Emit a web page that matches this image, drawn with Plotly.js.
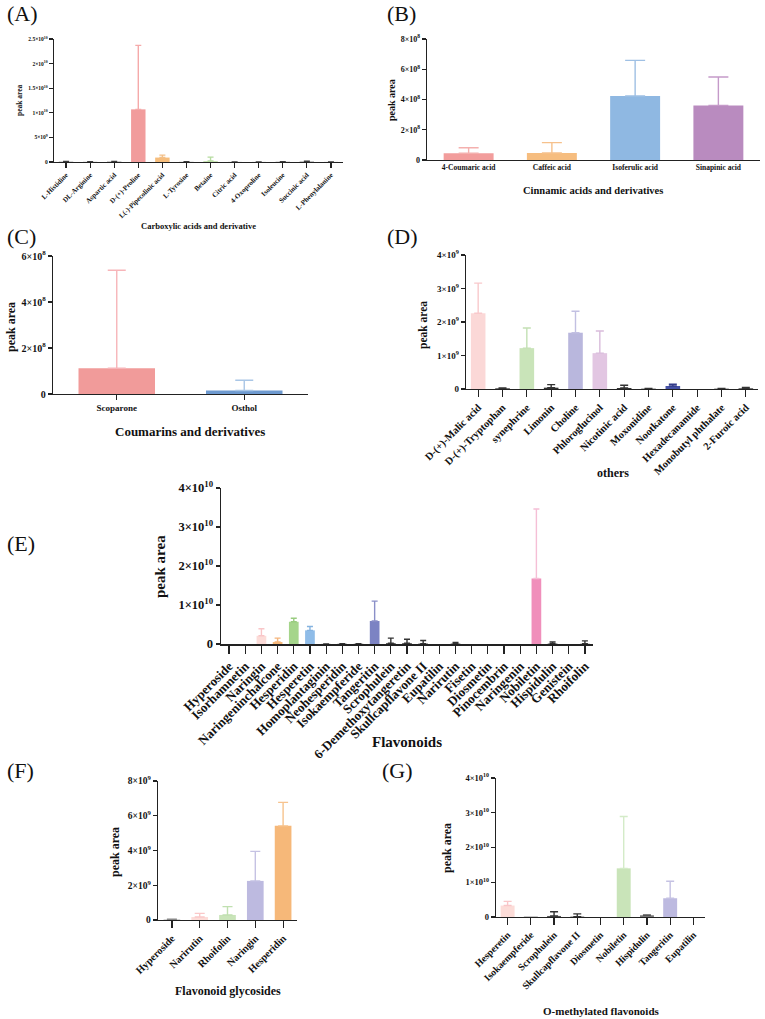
<!DOCTYPE html>
<html>
<head>
<meta charset="utf-8">
<script src="https://cdn.plot.ly/plotly-3.0.1.min.js"></script>
<style>html,body{margin:0;padding:0;background:#fff}#chart{width:765px;height:1019px}</style>
</head>
<body>
<div id="chart"></div>
<script>
// ---------- DATA ----------
// (A) Carboxylic acids and derivative
const A_cats = ["L-Histidine","DL-Arginine","Aspartic acid","D-(+)-Proline","L(-)-Pipecolinic acid","L-Tyrosine","Betaine","Citric acid","4-Oxoproline","Isoleucine","Succinic acid","L-Phenylalanine"];
const A_vals = [4e7, 2e7, 5e7, 1.07e10, 9e8, 2e7, 2e8, 1e7, 1e7, 3e7, 6e7, 1e7];
const A_errTop = [1e8, 6e7, 1.2e8, 2.37e10, 1.4e9, 5e7, 1e9, 3e7, 3e7, 8e7, 1.5e8, 3e7];
const A_colors = ["#3a3a3a","#3a3a3a","#3a3a3a","#f19c9c","#f6bd7c","#3a3a3a","#c8e4b4","#3a3a3a","#3a3a3a","#3a3a3a","#3a3a3a","#3a3a3a"];
const A_errColors = ["#3a3a3a","#3a3a3a","#3a3a3a","#f5aaaa","#f3c088","#3a3a3a","#b6dca0","#3a3a3a","#3a3a3a","#3a3a3a","#3a3a3a","#3a3a3a"];
const A_tickVals = [0, 5e9, 1e10, 1.5e10, 2e10, 2.5e10];
const A_tickText = ["0","5×10<sup>9</sup>","1×10<sup>10</sup>","1.5×10<sup>10</sup>","2×10<sup>10</sup>","2.5×10<sup>10</sup>"];

// (B) Cinnamic acids and derivatives
const B_cats = ["4-Coumaric acid","Caffeic acid","Isoferulic acid","Sinapinic acid"];
const B_vals = [4.5e7, 4.6e7, 4.23e8, 3.61e8];
const B_errTop = [8.1e7, 1.15e8, 6.59e8, 5.49e8];
const B_colors = ["#f29d9c","#f6bd7f","#8fb8e2","#b98bbf"];
const B_errColors = ["#f4b0ae","#f6c18c","#9fc0e4","#c59ac9"];
const B_tickVals = [0, 2e8, 4e8, 6e8, 8e8];
const B_tickText = ["0","2×10<sup>8</sup>","4×10<sup>8</sup>","6×10<sup>8</sup>","8×10<sup>8</sup>"];

// (C) Coumarins and derivatives
const C_cats = ["Scoparone","Osthol"];
const C_vals = [1.12e8, 1.5e7];
const C_errTop = [5.38e8, 6.0e7];
const C_colors = ["#f19b9a","#6e9ad0"];
const C_errColors = ["#f7b5b9","#a9c6e6"];
const C_tickVals = [0, 2e8, 4e8, 6e8];
const C_tickText = ["0","2×10<sup>8</sup>","4×10<sup>8</sup>","6×10<sup>8</sup>"];

// (D) others
const D_cats = ["D-(+)-Malic acid","D-(+)-Tryptophan","synephrine","Limonin","Choline","Phloroglucinol","Nicotinic acid","Moxonidine","Nootkatone","Hexadecanamide","Monobutyl phthalate","2-Furoic acid"];
const D_vals = [2.26e9, 2e7, 1.22e9, 4e7, 1.68e9, 1.07e9, 3e7, 1e7, 9e7, 0, 1e7, 2e7];
const D_errTop = [3.16e9, 3e7, 1.82e9, 1.3e8, 2.32e9, 1.73e9, 1.1e8, 2e7, 1.4e8, 0, 2e7, 5e7];
const D_colors = ["#fbd8d7","#333333","#c9e4b9","#333333","#b9b7dd","#e2c6e2","#333333","#333333","#4652a6","#333333","#333333","#333333"];
const D_errColors = ["#f9c9cc","#333333","#c3e0b4","#333333","#c2c0e2","#d9bcdb","#333333","#333333","#333b8a","#333333","#333333","#333333"];
const D_tickVals = [0, 1e9, 2e9, 3e9, 4e9];
const D_tickText = ["0","1×10<sup>9</sup>","2×10<sup>9</sup>","3×10<sup>9</sup>","4×10<sup>9</sup>"];

// (E) Flavonoids
const E_cats = ["Hyperoside","Isorhamnetin","Naringin","Naringeninchalcone","Hesperidin","Hesperetin","Homoplantaginin","Neohesperidin","Isokaempferide","Tangeritin","Scrophulein","6-Demethoxytangeretin","Skullcapflavone II","Eupatilin","Narirutin","Fisetin","Diosmetin","Pinocembrin","Naringenin","Nobiletin","Hispidulin","Genistein","Rhoifolin"];
const E_vals = [0, 0, 2.1e9, 5e8, 5.7e9, 3.5e9, 2e7, 5e7, 5e7, 5.9e9, 2e8, 2e8, 1e8, 0, 1e8, 0, 0, 0, 0, 1.68e10, 1e8, 0, 5e7];
const E_errTop = [0, 0, 3.9e9, 1.5e9, 6.6e9, 4.5e9, 4e7, 1e8, 1e8, 1.1e10, 1.5e9, 1.2e9, 9e8, 0, 4e8, 0, 0, 0, 0, 3.46e10, 5e8, 0, 8e8];
const E_colors = ["#333333","#333333","#fcdcd8","#f6b879","#a5d58b","#8fbce8","#333333","#333333","#333333","#7c83c3","#333333","#333333","#333333","#333333","#333333","#333333","#333333","#333333","#333333","#f08fbb","#333333","#333333","#333333"];
const E_errColors = ["#333333","#333333","#f9c6c8","#f5b57c","#99cc80","#85b3e0","#333333","#333333","#333333","#8a8fc8","#333333","#333333","#333333","#333333","#333333","#333333","#333333","#333333","#333333","#f5bfd6","#333333","#333333","#333333"];
const E_tickVals = [0, 1e10, 2e10, 3e10, 4e10];
const E_tickText = ["0","1×10<sup>10</sup>","2×10<sup>10</sup>","3×10<sup>10</sup>","4×10<sup>10</sup>"];

// (F) Flavonoid glycosides
const F_cats = ["Hyperoside","Narirutin","Rhoifolin","Naringin","Hesperidin"];
const F_vals = [2e7, 1.7e8, 2.9e8, 2.25e9, 5.42e9];
const F_errTop = [4e7, 3.8e8, 7.7e8, 3.95e9, 6.77e9];
const F_colors = ["#888888","#fcdcd8","#c9e4b9","#bdbae0","#f6b879"];
const F_errColors = ["#888888","#fac8c8","#c0e0b0","#c5c2e3","#f7c38e"];
const F_tickVals = [0, 2e9, 4e9, 6e9, 8e9];
const F_tickText = ["0","2×10<sup>9</sup>","4×10<sup>9</sup>","6×10<sup>9</sup>","8×10<sup>9</sup>"];

// (G) O-methylated flavonoids
const G_cats = ["Hesperetin","Isokaempferide","Scrophulein","Skullcapflavone II","Diosmetin","Nobiletin","Hispidulin","Tangeritin","Eupatilin"];
const G_vals = [3.3e9, 1e8, 3e8, 1e8, 0, 1.4e10, 5e8, 5.4e9, 0];
const G_errTop = [4.5e9, 1e8, 1.5e9, 9e8, 0, 2.89e10, 6e8, 1.03e10, 0];
const G_colors = ["#fcdcd8","#666666","#555555","#333333","#333333","#c9e4b9","#777777","#bdbae0","#333333"];
const G_errColors = ["#f9c6c8","#666666","#333333","#333333","#333333","#d4ebc8","#555555","#c5c2e3","#333333"];
const G_tickVals = [0, 1e10, 2e10, 3e10, 4e10];
const G_tickText = ["0","1×10<sup>10</sup>","2×10<sup>10</sup>","3×10<sup>10</sup>","4×10<sup>10</sup>"];

// ---------- LAYOUT HELPERS ----------
const W = 765, H = 1019;
const FAM = "Liberation Serif, Times New Roman, serif";
const px = v => v / W;
const py = v => 1 - v / H;

const panels = [
  {id:"A", cats:A_cats, vals:A_vals, err:A_errTop, col:A_colors, ecol:A_errColors, tv:A_tickVals, tt:A_tickText,
   x0:54, x1:343, yTop:39, yBot:162, ymax:2.5e10, tickFs:5.5, catFs:7, angle:-45, capW:3, xticks:true, xtl:5, lw:1.2,
   title:"Carboxylic acids and derivative", tx:198, ty:226, tFs:8.5, ytx:20, yty:100, ytFs:7.5, letter:[5,14]},
  {id:"B", cats:B_cats, vals:B_vals, err:B_errTop, col:B_colors, ecol:B_errColors, tv:B_tickVals, tt:B_tickText,
   x0:427, x1:760, yTop:39, yBot:160, ymax:8e8, tickFs:8, catFs:7.5, angle:0, capW:10, xticks:false, xtl:4, lw:1.3,
   title:"Cinnamic acids and derivatives", tx:593, ty:190, tFs:10.5, ytx:392, yty:100, ytFs:10, letter:[385,14]},
  {id:"C", cats:C_cats, vals:C_vals, err:C_errTop, col:C_colors, ecol:C_errColors, tv:C_tickVals, tt:C_tickText,
   x0:53, x1:308, yTop:256, yBot:394, ymax:6e8, tickFs:10, catFs:9, angle:0, capW:9, xticks:true, xtl:5, lw:1.3,
   title:"Coumarins and derivatives", tx:190, ty:432, tFs:13, ytx:11, yty:327, ytFs:12, letter:[5,236]},
  {id:"D", cats:D_cats, vals:D_vals, err:D_errTop, col:D_colors, ecol:D_errColors, tv:D_tickVals, tt:D_tickText,
   x0:466, x1:758, yTop:255, yBot:389, ymax:4e9, tickFs:9, catFs:10.5, angle:-45, capW:4, xticks:true, xtl:7, lw:1.3,
   title:"others", tx:613, ty:473, tFs:12, ytx:423, yty:325, ytFs:11.5, letter:[385,236]},
  {id:"E", cats:E_cats, vals:E_vals, err:E_errTop, col:E_colors, ecol:E_errColors, tv:E_tickVals, tt:E_tickText,
   x0:221, x1:593, yTop:488, yBot:644, ymax:4e10, tickFs:12.5, catFs:13, angle:-45, capW:3, xticks:true, xtl:8, lw:1.5,
   title:"Flavonoids", tx:407, ty:742, tFs:15, ytx:160, yty:567, ytFs:15, letter:[5,543]},
  {id:"F", cats:F_cats, vals:F_vals, err:F_errTop, col:F_colors, ecol:F_errColors, tv:F_tickVals, tt:F_tickText,
   x0:158, x1:297, yTop:781, yBot:920, ymax:8e9, tickFs:9.5, catFs:10.3, angle:-45, capW:5, xticks:true, xtl:7, lw:1.3,
   title:"Flavonoid glycosides", tx:228, ty:991, tFs:12, ytx:115, yty:852, ytFs:12, letter:[5,770]},
  {id:"G", cats:G_cats, vals:G_vals, err:G_errTop, col:G_colors, ecol:G_errColors, tv:G_tickVals, tt:G_tickText,
   x0:496, x1:705, yTop:778, yBot:917, ymax:4e10, tickFs:8.5, catFs:9.8, angle:-45, capW:4, xticks:true, xtl:7, lw:1.3,
   title:"O-methylated flavonoids", tx:601, ty:1011, tFs:11, ytx:447, yty:848, ytFs:12, letter:[380,770]}
];

const traces = [];
const layout = {
  width: W, height: H,
  margin: {l:0, r:0, t:0, b:0},
  paper_bgcolor: "#fff", plot_bgcolor: "rgba(0,0,0,0)",
  showlegend: false, barmode: "overlay", bargap: 0.4,
  font: {family: FAM, color: "#111"},
  annotations: []
};

panels.forEach((p, k) => {
  const n = k + 1;
  const xa = n === 1 ? "x" : "x" + n;
  const ya = n === 1 ? "y" : "y" + n;
  p.cats.forEach((c, i) => {
    const up = Math.max(p.err[i] - p.vals[i], 0);
    traces.push({
      type: "bar", x: [c], y: [p.vals[i]], xaxis: xa, yaxis: ya, width: 0.6,
      marker: {color: p.col[i], line: {width: 0}},
      error_y: {type: "data", symmetric: false, array: [up], arrayminus: [0],
                visible: p.err[i] > p.vals[i], color: p.ecol[i], thickness: 1.4, width: p.capW},
      hoverinfo: "x+y"
    });
  });
  const axColor = "#222";
  layout["xaxis" + (n === 1 ? "" : n)] = {
    domain: [px(p.x0), px(p.x1)], anchor: ya, type: "category",
    categoryorder: "array", categoryarray: p.cats, range: [-0.5, p.cats.length - 0.5],
    showline: true, linecolor: axColor, linewidth: p.lw, showgrid: false, zeroline: false,
    ticks: p.xticks ? "outside" : "", ticklen: p.xtl, tickwidth: 1.2, tickcolor: axColor,
    tickangle: p.angle, automargin: false,
    tickfont: {family: FAM, size: p.catFs, weight: "bold", color: "#111"}
  };
  layout["yaxis" + (n === 1 ? "" : n)] = {
    domain: [py(p.yBot), py(p.yTop)], anchor: xa, range: [0, p.ymax],
    tickmode: "array", tickvals: p.tv, ticktext: p.tt,
    showline: true, linecolor: axColor, linewidth: p.lw, showgrid: false, zeroline: false,
    ticks: "outside", ticklen: 4, tickwidth: 1.2, tickcolor: axColor, automargin: false,
    tickfont: {family: FAM, size: p.tickFs, weight: "bold", color: "#111"}
  };
  // x title
  layout.annotations.push({xref:"paper", yref:"paper", x:px(p.tx), y:py(p.ty), text:p.title,
    showarrow:false, xanchor:"center", yanchor:"middle",
    font:{family:FAM, size:p.tFs, weight:"bold", color:"#111"}});
  // y title
  layout.annotations.push({xref:"paper", yref:"paper", x:px(p.ytx), y:py(p.yty), text:"peak area",
    showarrow:false, textangle:-90, xanchor:"center", yanchor:"middle",
    font:{family:FAM, size:p.ytFs, weight:"bold", color:"#111"}});
  // panel letter
  layout.annotations.push({xref:"paper", yref:"paper", x:px(p.letter[0]), y:py(p.letter[1]), text:"(" + p.id + ")",
    showarrow:false, xanchor:"left", yanchor:"middle",
    font:{family:FAM, size:22, color:"#111"}});
});

Plotly.newPlot("chart", traces, layout, {displayModeBar: false, staticPlot: true});
</script>
</body>
</html>
